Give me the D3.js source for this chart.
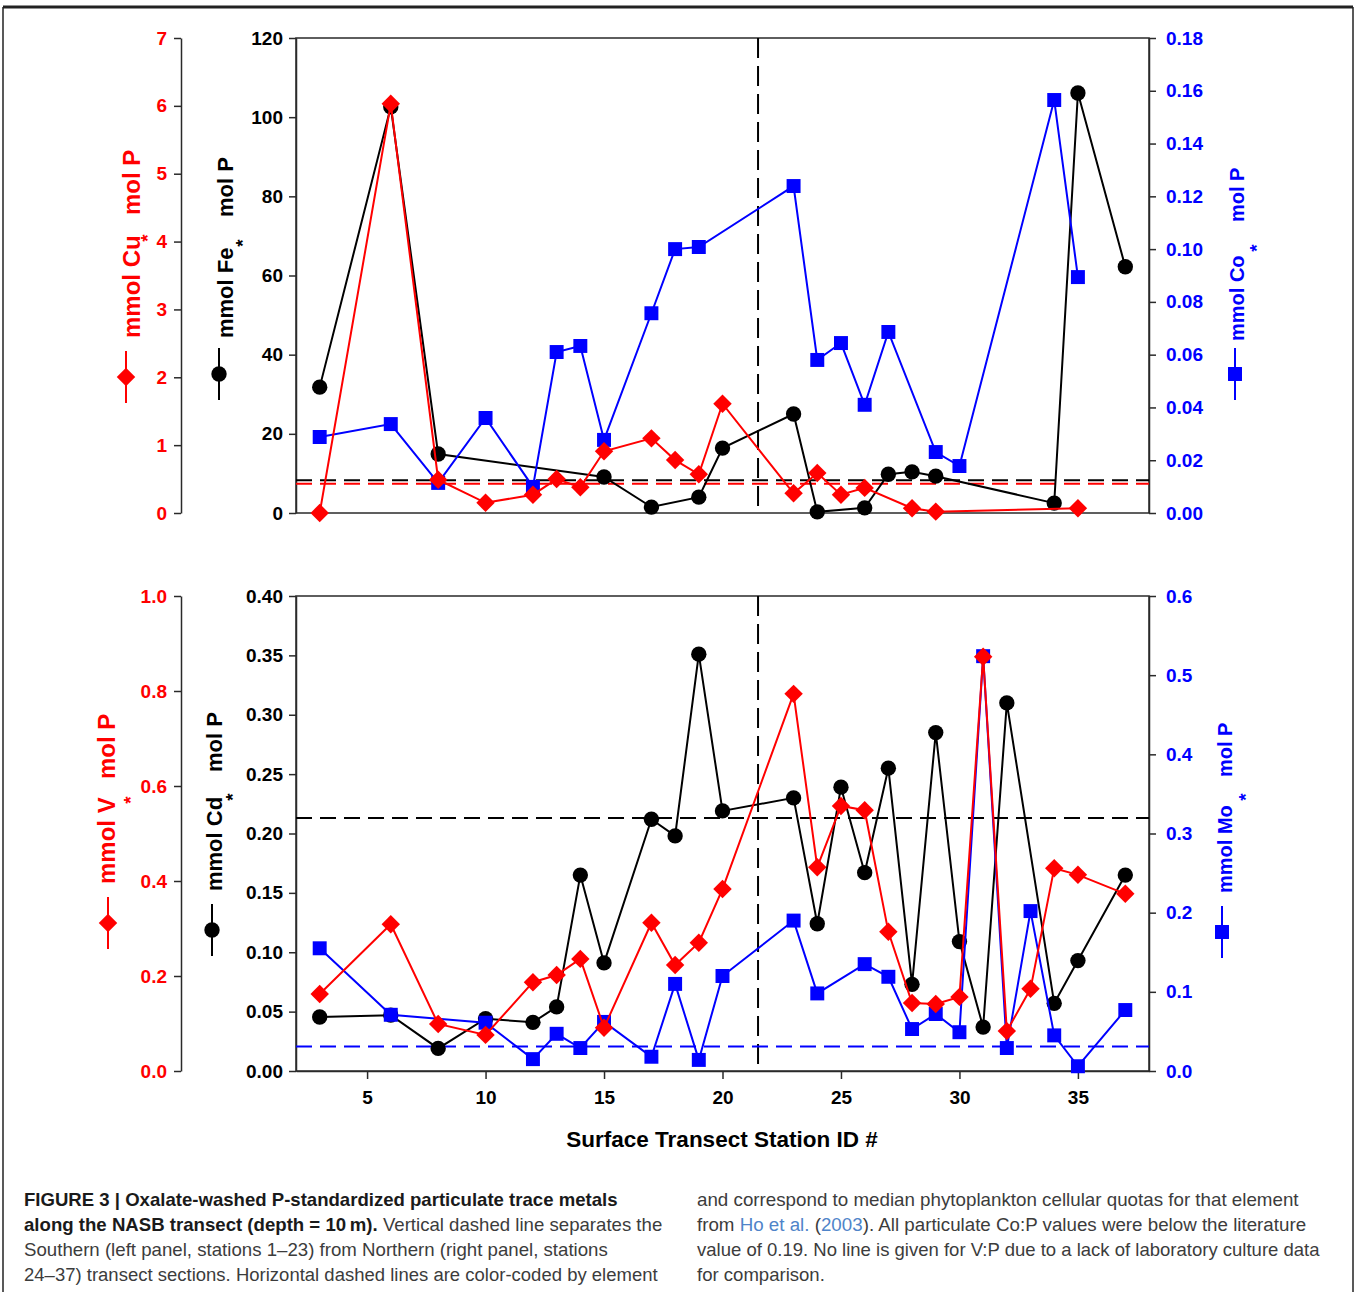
<!DOCTYPE html>
<html>
<head>
<meta charset="utf-8">
<script src="https://cdn.jsdelivr.net/npm/d3@7"></script>
<style>
  body { margin: 0; background: #fff; }
</style>
</head>
<body>
<svg id="fig" width="1356" height="1292"></svg>
<script>
// ---- data ----
// top panel: Fe (black, inner left), Cu (red, outer left), Co (blue, right)
const feStations = [3, 6, 8, 15, 17, 19, 20, 23, 24, 26, 27, 28, 29, 34, 35, 37];
const feValues = [31.8, 102.6, 14.9, 9.1, 1.5, 4.0, 16.4, 25.0, 0.3, 1.3, 9.8, 10.4, 9.3, 2.5, 106.1, 62.2];
const cuStations = [3, 6, 8, 10, 12, 13, 14, 15, 17, 18, 19, 20, 23, 24, 25, 26, 28, 29, 35];
const cuValues = [0.0, 6.03, 0.49, 0.15, 0.27, 0.50, 0.38, 0.91, 1.10, 0.78, 0.57, 1.61, 0.29, 0.59, 0.27, 0.37, 0.07, 0.02, 0.07];
const coStations = [3, 6, 8, 10, 12, 13, 14, 15, 17, 18, 19, 23, 24, 25, 26, 27, 29, 30, 34, 35];
const coValues = [0.0288, 0.0337, 0.0114, 0.036, 0.0099, 0.061, 0.0633, 0.0277, 0.0757, 0.100, 0.1008, 0.1239, 0.058, 0.0644, 0.041, 0.0686, 0.0231, 0.0178, 0.1565, 0.0894];
const feRef = 8.3;
const cuRef = 0.43;

// bottom panel: Cd (black, inner left), V (red, outer left), Mo (blue, right)
const cdStations = [3, 6, 8, 10, 12, 13, 14, 15, 17, 18, 19, 20, 23, 24, 25, 26, 27, 28, 29, 30, 31, 32, 34, 35, 37];
const cdValues = [0.0455, 0.047, 0.019, 0.044, 0.041, 0.054, 0.165, 0.091, 0.212, 0.198, 0.351, 0.219, 0.230, 0.124, 0.239, 0.167, 0.255, 0.073, 0.285, 0.109, 0.037, 0.310, 0.057, 0.093, 0.165];
const vStations = [3, 6, 8, 10, 12, 13, 14, 15, 17, 18, 19, 20, 23, 24, 25, 26, 27, 28, 29, 30, 31, 32, 33, 34, 35, 37];
const vValues = [0.162, 0.309, 0.099, 0.076, 0.187, 0.202, 0.236, 0.091, 0.312, 0.223, 0.270, 0.383, 0.794, 0.429, 0.558, 0.549, 0.293, 0.143, 0.141, 0.156, 0.872, 0.084, 0.173, 0.427, 0.413, 0.373];
const moStations = [3, 6, 10, 12, 13, 14, 15, 17, 18, 19, 20, 23, 24, 26, 27, 28, 29, 30, 31, 32, 33, 34, 35, 37];
const moValues = [0.155, 0.071, 0.061, 0.015, 0.047, 0.029, 0.062, 0.018, 0.110, 0.014, 0.120, 0.190, 0.098, 0.135, 0.119, 0.053, 0.072, 0.049, 0.524, 0.029, 0.202, 0.045, 0.006, 0.077];
const cdRef = 0.213;
const moRef = 0.031;

const regionSplit = 21.5;
const xTicks = [5, 10, 15, 20, 25, 30, 35];

const captionLeft = [
  [['b', 'FIGURE 3 | Oxalate-washed P-standardized particulate trace metals']],
  [['b', 'along the NASB transect (depth = 10\u2009m).'], ['r', ' Vertical dashed line separates the']],
  [['r', 'Southern (left panel, stations 1\u201323) from Northern (right panel, stations']],
  [['r', '24\u201337) transect sections. Horizontal dashed lines are color-coded by element']]
];
const captionRight = [
  [['r', 'and correspond to median phytoplankton cellular quotas for that element']],
  [['r', 'from '], ['l', 'Ho et al.'], ['r', ' ('], ['l', '2003'], ['r', '). All particulate Co:P values were below the literature']],
  [['r', 'value of 0.19. No line is given for V:P due to a lack of laboratory culture data']],
  [['r', 'for comparison.']]
];
const captionLeftWidths = [594, 639, 584, 634];
const captionRightWidths = [602, 609, 623, 128];

// ---- drawing ----
const F = '"Liberation Sans", Arial, Helvetica, sans-serif';
const RED = '#ff0000', BLUE = '#0000ff', BLK = '#000000', AX = '#2a2a2a';
const svg = d3.select('#fig').attr('font-family', F);

// page frame
svg.append('line').attr('x1', 3).attr('x2', 1353).attr('y1', 7).attr('y2', 7).attr('stroke', '#222').attr('stroke-width', 3);
svg.append('line').attr('x1', 3).attr('x2', 3).attr('y1', 7).attr('y2', 1292).attr('stroke', '#222').attr('stroke-width', 1.5);
svg.append('line').attr('x1', 1353).attr('x2', 1353).attr('y1', 7).attr('y2', 1292).attr('stroke', '#222').attr('stroke-width', 1.5);

const x = d3.scaleLinear().domain([2, 38]).range([296, 1149]);
const L = 296, R = 1149, OUT = 181;

const symCircle = d3.symbol(d3.symbolCircle, 185)();
const symSquare = d3.symbol(d3.symbolSquare, 195)();
const symDiamond = d3.symbol(d3.symbolSquare, 170)();

function styleAxis(g, color) {
  g.selectAll('path.domain').attr('stroke', AX).attr('stroke-width', 1.5);
  g.selectAll('.tick line').attr('stroke', AX).attr('stroke-width', 1.5);
  g.selectAll('.tick text').attr('fill', color).attr('font-size', 19).attr('font-weight', 'bold').attr('font-family', F);
}

function series(g, xs, vs, y, color, sym, rot) {
  const pts = d3.zip(xs, vs);
  g.append('path').datum(pts)
    .attr('fill', 'none').attr('stroke', color).attr('stroke-width', 2)
    .attr('d', d3.line().x(d => x(d[0])).y(d => y(d[1])));
  g.selectAll(null).data(pts).join('path')
    .attr('transform', d => `translate(${x(d[0])},${y(d[1])})` + (rot ? ' rotate(45)' : ''))
    .attr('d', sym).attr('fill', color);
}

function refLine(g, v, y, color) {
  g.append('line').attr('x1', L).attr('x2', R).attr('y1', y(v)).attr('y2', y(v))
    .attr('stroke', color).attr('stroke-width', 2).attr('stroke-dasharray', '16,8');
}

// rotated axis title with legend symbol
function yTitle(o) {
  const t = svg.append('g').attr('transform', `translate(${o.x},${o.y0}) rotate(-90)`)
    .attr('fill', o.color).attr('font-weight', 'bold');
  t.append('text').attr('font-size', o.fs).text(o.name);
  t.append('text').attr('font-size', 19).attr('text-anchor', 'middle')
    .attr('x', o.y0 - o.ay).attr('y', o.ax - o.x + 11).text('*');
  t.append('text').attr('font-size', o.fs).attr('x', o.y0 - o.py).text('mol P');
  svg.append('line').attr('x1', o.mx).attr('x2', o.mx).attr('y1', o.my - 26).attr('y2', o.my + 26)
    .attr('stroke', o.color).attr('stroke-width', 2);
  svg.append('path').attr('d', o.sym)
    .attr('transform', `translate(${o.mx},${o.my})` + (o.rot ? ' rotate(45)' : ''))
    .attr('fill', o.color);
}

function panel(cfg) {
  const { top, bot } = cfg;
  const yIn = d3.scaleLinear().domain(cfg.inDomain).range([bot, top]);
  const yOut = d3.scaleLinear().domain(cfg.outDomain).range([bot, top]);
  const yRt = d3.scaleLinear().domain(cfg.rtDomain).range([bot, top]);

  svg.append('rect').attr('x', L).attr('y', top).attr('width', R - L).attr('height', bot - top)
    .attr('fill', 'none').attr('stroke', AX).attr('stroke-width', 1.5);

  const gOut = svg.append('g').attr('transform', `translate(${OUT},0)`)
    .call(d3.axisLeft(yOut).tickValues(cfg.outTicks).tickFormat(d3.format(cfg.outFmt)).tickSize(7).tickSizeOuter(0).tickPadding(7));
  styleAxis(gOut, RED);
  const gIn = svg.append('g').attr('transform', `translate(${L},0)`)
    .call(d3.axisLeft(yIn).tickValues(cfg.inTicks).tickFormat(d3.format(cfg.inFmt)).tickSize(7).tickSizeOuter(0).tickPadding(6));
  styleAxis(gIn, BLK);
  const gRt = svg.append('g').attr('transform', `translate(${R},0)`)
    .call(d3.axisRight(yRt).tickValues(cfg.rtTicks).tickFormat(d3.format(cfg.rtFmt)).tickSize(7).tickSizeOuter(0).tickPadding(10));
  styleAxis(gRt, BLUE);

  if (cfg.xAxis) {
    const gx = svg.append('g').attr('transform', `translate(0,${bot})`)
      .call(d3.axisBottom(x).tickValues(xTicks).tickSize(8).tickSizeOuter(0).tickPadding(12));
    styleAxis(gx, BLK);
  }

  const plot = svg.append('g');
  plot.append('line').attr('x1', x(regionSplit)).attr('x2', x(regionSplit)).attr('y1', top).attr('y2', bot)
    .attr('stroke', BLK).attr('stroke-width', 2).attr('stroke-dasharray', '20,8');
  cfg.refs.forEach(r => refLine(plot, r.v, r.axis === 'in' ? yIn : r.axis === 'out' ? yOut : yRt, r.color));

  series(plot, cfg.inS, cfg.inV, yIn, BLK, symCircle, false);
  series(plot, cfg.rtS, cfg.rtV, yRt, BLUE, symSquare, false);
  series(plot, cfg.outS, cfg.outV, yOut, RED, symDiamond, true);
}

panel({
  top: 38, bot: 513,
  inDomain: [0, 120], inTicks: d3.range(0, 121, 20), inFmt: 'd',
  outDomain: [0, 7], outTicks: d3.range(0, 8, 1), outFmt: 'd',
  rtDomain: [0, 0.18], rtTicks: d3.range(0, 0.181, 0.02), rtFmt: '.2f',
  inS: feStations, inV: feValues, outS: cuStations, outV: cuValues, rtS: coStations, rtV: coValues,
  refs: [{ v: feRef, axis: 'in', color: BLK }, { v: cuRef, axis: 'out', color: RED }],
  xAxis: false
});

panel({
  top: 596, bot: 1071,
  inDomain: [0, 0.4], inTicks: d3.range(0, 0.401, 0.05), inFmt: '.2f',
  outDomain: [0, 1], outTicks: d3.range(0, 1.01, 0.2), outFmt: '.1f',
  rtDomain: [0, 0.6], rtTicks: d3.range(0, 0.601, 0.1), rtFmt: '.1f',
  inS: cdStations, inV: cdValues, outS: vStations, outV: vValues, rtS: moStations, rtV: moValues,
  refs: [{ v: cdRef, axis: 'in', color: BLK }, { v: moRef, axis: 'rt', color: BLUE }],
  xAxis: true
});

// axis titles
yTitle({ name: 'mmol Cu', fs: 24, color: RED, x: 140, y0: 338, ax: 143, ay: 238, py: 215, mx: 126, my: 377, sym: symDiamond, rot: true });
yTitle({ name: 'mmol Fe', fs: 22, color: BLK, x: 233, y0: 338, ax: 238, ay: 243, py: 217, mx: 219, my: 374, sym: symCircle });
yTitle({ name: 'mmol Co', fs: 20, color: BLUE, x: 1244, y0: 341, ax: 1252, ay: 248, py: 222, mx: 1235, my: 374, sym: symSquare });
yTitle({ name: 'mmol V', fs: 24, color: RED, x: 115, y0: 884, ax: 126, ay: 800, py: 779, mx: 108, my: 923, sym: symDiamond, rot: true });
yTitle({ name: 'mmol Cd', fs: 22, color: BLK, x: 222, y0: 891, ax: 228, ay: 797, py: 772, mx: 212, my: 930, sym: symCircle });
yTitle({ name: 'mmol Mo', fs: 20, color: BLUE, x: 1232, y0: 893, ax: 1241, ay: 797, py: 777, mx: 1222, my: 932, sym: symSquare });

svg.append('text').attr('x', 722).attr('y', 1147).attr('text-anchor', 'middle')
  .attr('font-size', 22.5).attr('font-weight', 'bold').attr('fill', BLK)
  .text('Surface Transect Station ID #');

// caption
function captionColumn(lines, widths, x0) {
  lines.forEach((parts, i) => {
    const t = svg.append('text').attr('font-size', 18);
    parts.forEach(([k, s]) => {
      t.append('tspan').text(s)
        .attr('font-weight', k === 'b' ? 'bold' : 'normal')
        .attr('fill', k === 'b' ? '#1a1a1a' : k === 'l' ? '#4f84c9' : '#3c3c3c');
    });
    const w = t.node().getComputedTextLength();
    t.attr('transform', `translate(${x0},${1206 + i * 25}) scale(${widths[i] / w},1)`);
  });
}
captionColumn(captionLeft, captionLeftWidths, 24);
captionColumn(captionRight, captionRightWidths, 697);
</script>
</body>
</html>
